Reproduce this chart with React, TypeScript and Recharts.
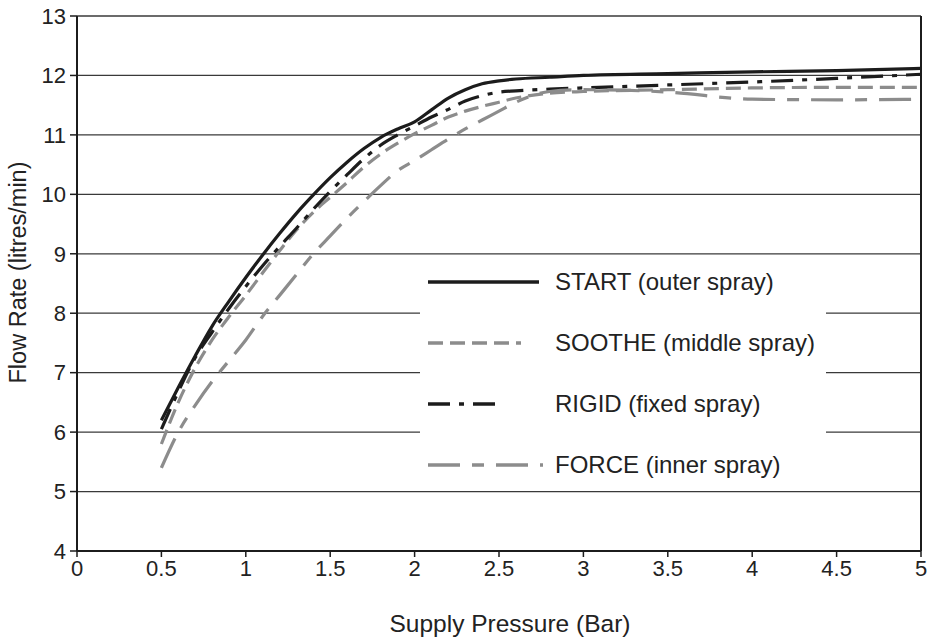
import React from 'react';
import { LineChart, Line, XAxis, YAxis, CartesianGrid, Legend, ReferenceLine, Label } from 'recharts';

// supply pressure (bar) shared by every series
const pressure = [0.5, 0.6, 0.7, 0.8, 0.9, 1.0, 1.1, 1.2, 1.3, 1.4, 1.5, 1.6, 1.7, 1.8, 1.9, 2.0, 2.1, 2.2, 2.3, 2.4, 2.5, 2.6, 2.8, 3.0, 3.5, 4.0, 4.5, 5.0];

// flow rate (litres/min)
const startOuter = [6.2, 6.75, 7.28, 7.78, 8.2, 8.6, 8.98, 9.34, 9.68, 9.99, 10.28, 10.54, 10.77, 10.96, 11.1, 11.22, 11.42, 11.62, 11.76, 11.86, 11.91, 11.94, 11.97, 12.0, 12.03, 12.06, 12.08, 12.12];
const sootheMiddle = [5.8, 6.5, 7.08, 7.55, 7.94, 8.3, 8.68, 9.05, 9.4, 9.7, 9.95, 10.2, 10.46, 10.68, 10.86, 11.02, 11.16, 11.3, 11.4, 11.48, 11.55, 11.62, 11.7, 11.73, 11.76, 11.79, 11.8, 11.8];
const rigidFixed = [6.05, 6.68, 7.25, 7.68, 8.08, 8.45, 8.8, 9.12, 9.43, 9.75, 10.05, 10.33, 10.6, 10.83, 11.0, 11.15, 11.3, 11.43, 11.57, 11.66, 11.72, 11.74, 11.77, 11.79, 11.84, 11.89, 11.95, 12.02];
const forceInner = [5.4, 6.0, 6.45, 6.85, 7.2, 7.55, 7.95, 8.3, 8.65, 9.0, 9.3, 9.6, 9.88, 10.15, 10.4, 10.57, 10.75, 10.93, 11.1, 11.25, 11.4, 11.55, 11.73, 11.76, 11.72, 11.6, 11.59, 11.6];

const xTicks = [0, 0.5, 1, 1.5, 2, 2.5, 3, 3.5, 4, 4.5, 5];
const yTicks = [4, 5, 6, 7, 8, 9, 10, 11, 12, 13];

const data = pressure.map((p, i) => ({
  p,
  start: startOuter[i],
  soothe: sootheMiddle[i],
  rigid: rigidFixed[i],
  force: forceInner[i],
}));

const FONT = '"Liberation Sans", Arial, Helvetica, sans-serif';
const DARK = '#1c1c1c';
const GREY = '#8c8c8c';

const series = [
  { key: 'start', name: 'START (outer spray)', color: DARK, dash: undefined, sample: 111 },
  { key: 'soothe', name: 'SOOTHE (middle spray)', color: GREY, dash: '15 7', sample: 93 },
  { key: 'rigid', name: 'RIGID (fixed spray)', color: DARK, dash: '22 9 5 9', sample: 76 },
  { key: 'force', name: 'FORCE (inner spray)', color: GREY, dash: '32 12 12 12', sample: 115 },
];

const LegendBox = () => (
  <div style={{ position: 'relative', width: '100%', height: '100%', background: '#fff', fontFamily: FONT }}>
    {series.map((s, i) => (
      <div
        key={s.key}
        style={{ position: 'absolute', left: 0, top: 24 + i * 61 - 15, height: 30, display: 'flex', alignItems: 'center' }}
      >
        <svg width={135} height={30}>
          <line
            x1={8}
            x2={8 + s.sample}
            y1={15}
            y2={15}
            stroke={s.color}
            strokeWidth={3.5}
            strokeDasharray={s.dash}
          />
        </svg>
        <span style={{ fontSize: 24, color: '#222', whiteSpace: 'nowrap' }}>{s.name}</span>
      </div>
    ))}
  </div>
);

const XTitle = (props: any) => {
  const vb = props.viewBox;
  return (
    <text x={vb.x + vb.width / 2 + 11} y={vb.y + vb.height - 6} textAnchor="middle" fontSize={24.5} fill="#222" fontFamily={FONT}>
      Supply Pressure (Bar)
    </text>
  );
};

const YTitle = (props: any) => {
  const vb = props.viewBox;
  const x = 26;
  const y = vb.y + vb.height / 2 - 11;
  return (
    <text x={x} y={y} transform={`rotate(-90 ${x} ${y})`} textAnchor="middle" fontSize={23.5} fill="#222" fontFamily={FONT}>
      Flow Rate (litres/min)
    </text>
  );
};

export default function App() {
  const tickStyle = { fontSize: 22, fill: '#222', fontFamily: FONT };
  return (
    <div style={{ position: 'absolute', left: 0, top: 0, width: 935, height: 638, background: '#fff' }}>
      <LineChart width={935} height={638} data={data} margin={{ top: 16, right: 14, bottom: 0, left: 0 }}>
        <CartesianGrid vertical={false} stroke="#3a3a3a" strokeWidth={1.3} />
        <XAxis
          dataKey="p"
          type="number"
          domain={[0, 5]}
          ticks={xTicks}
          height={87}
          tick={tickStyle}
          tickSize={6}
          tickMargin={3}
          axisLine={{ stroke: DARK, strokeWidth: 2 }}
          tickLine={{ stroke: DARK, strokeWidth: 1.5 }}
        >
          <Label content={<XTitle />} />
        </XAxis>
        <YAxis
          type="number"
          domain={[4, 13]}
          ticks={yTicks}
          width={77}
          tick={tickStyle}
          tickSize={7}
          tickMargin={4}
          axisLine={{ stroke: DARK, strokeWidth: 2 }}
          tickLine={{ stroke: DARK, strokeWidth: 1.5 }}
        >
          <Label content={<YTitle />} />
        </YAxis>
        <ReferenceLine x={5} stroke={DARK} strokeWidth={2} />
        {series.map((s) => (
          <Line
            key={s.key}
            dataKey={s.key}
            name={s.name}
            type="monotone"
            stroke={s.color}
            strokeWidth={3.2}
            strokeDasharray={s.dash}
            dot={false}
            activeDot={false}
            isAnimationActive={false}
          />
        ))}
        <Legend
          layout="horizontal"
          verticalAlign="middle"
          align="center"
          content={<LegendBox />}
          wrapperStyle={{ position: 'absolute', left: 420, top: 258, width: 406, height: 230, bottom: 'auto', right: 'auto' }}
        />
      </LineChart>
    </div>
  );
}
